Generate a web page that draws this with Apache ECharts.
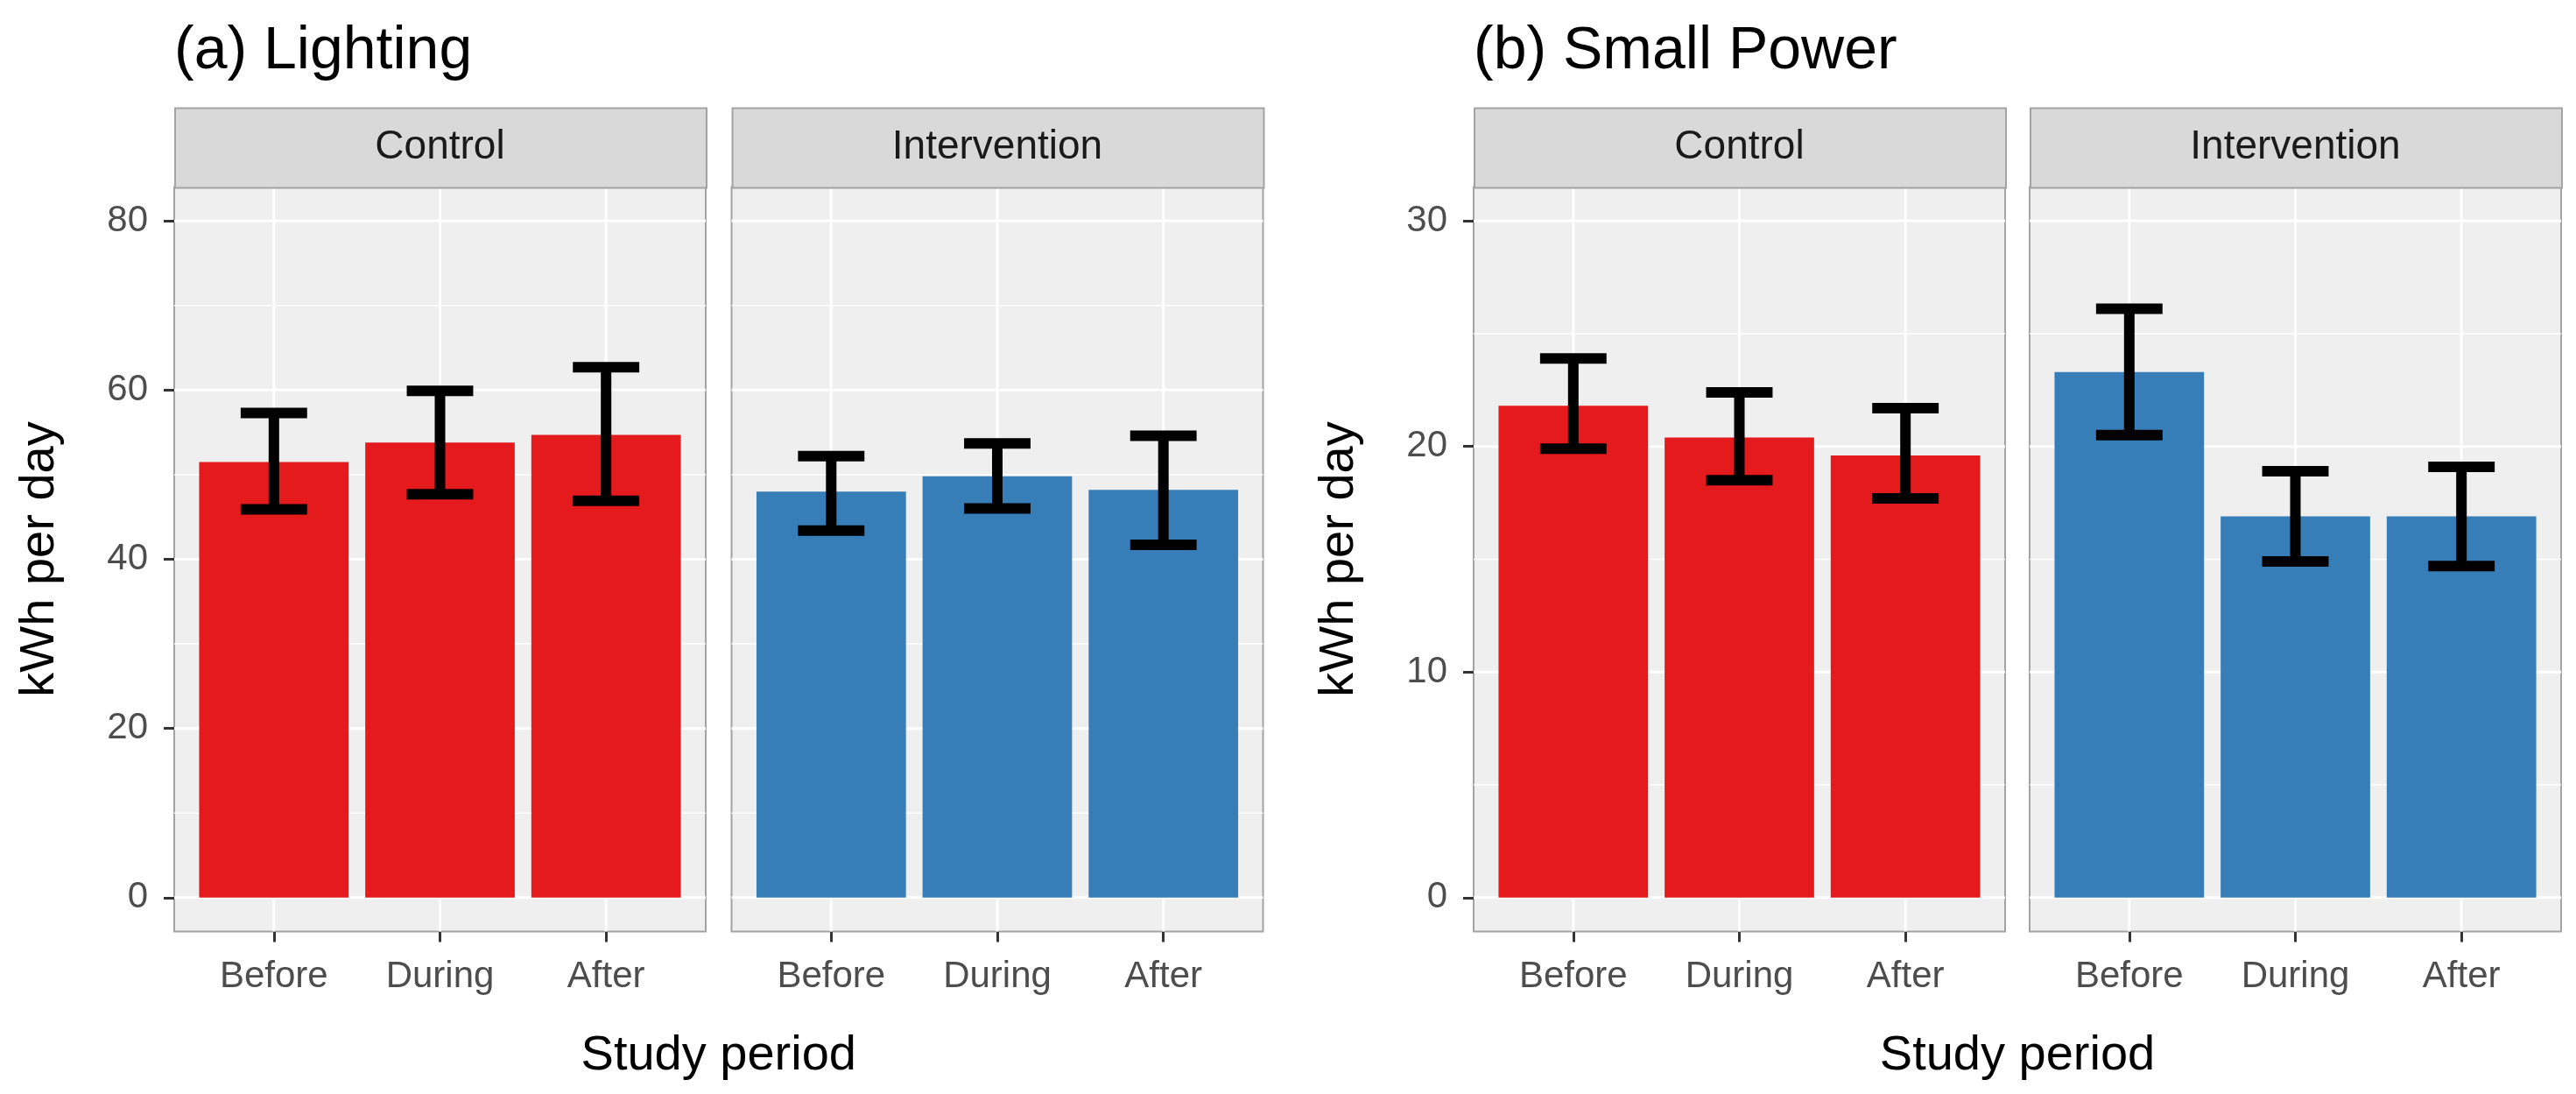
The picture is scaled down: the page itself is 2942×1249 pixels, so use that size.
<!DOCTYPE html>
<html><head><meta charset="utf-8">
<script src="https://cdn.jsdelivr.net/npm/echarts@6/dist/echarts.min.js"></script>
<style>html,body{margin:0;padding:0;background:#fff}#c{width:2942px;height:1249px}</style>
</head><body><div id="c"></div>
<script>
// ---------- data ----------
const categories = ['Before', 'During', 'After'];
const facets = ['Control', 'Intervention'];
const plotTitles = ['(a) Lighting', '(b) Small Power'];
const yAxisTitle = 'kWh per day';
const xAxisTitle = 'Study period';

const lightingControlMean = [51.5, 53.8, 54.7];
const lightingControlLower = [45.9, 47.7, 46.9];
const lightingControlUpper = [57.3, 59.9, 62.7];
const lightingInterventionMean = [48.0, 49.8, 48.2];
const lightingInterventionLower = [43.4, 46.0, 41.7];
const lightingInterventionUpper = [52.2, 53.7, 54.6];

const powerControlMean = [21.8, 20.4, 19.6];
const powerControlLower = [19.9, 18.5, 17.7];
const powerControlUpper = [23.9, 22.4, 21.7];
const powerInterventionMean = [23.3, 16.9, 16.9];
const powerInterventionLower = [20.5, 14.9, 14.7];
const powerInterventionUpper = [26.1, 18.9, 19.1];

const lightingTicks = [0, 20, 40, 60, 80];
const lightingMinor = [10, 30, 50, 70];
const lightingRange = [-4, 84];
const powerTicks = [0, 10, 20, 30];
const powerMinor = [5, 15, 25];
const powerRange = [-1.5, 31.5];

// ---------- layout / style ----------
const FONT = 'Liberation Sans, Arial, Helvetica, sans-serif';
const RED = '#E41A1C', BLUE = '#377EB8';
const PANEL_W = 607, PANEL_TOP = 213.5, PANEL_H = 850, STRIP_TOP = 122.6;
const panelLefts = [199, 835.5, 1683, 2318];
const panels = [
  {mean: lightingControlMean, lo: lightingControlLower, hi: lightingControlUpper, color: RED, ticks: lightingTicks, minor: lightingMinor, range: lightingRange, facet: 0},
  {mean: lightingInterventionMean, lo: lightingInterventionLower, hi: lightingInterventionUpper, color: BLUE, ticks: lightingTicks, minor: lightingMinor, range: lightingRange, facet: 1},
  {mean: powerControlMean, lo: powerControlLower, hi: powerControlUpper, color: RED, ticks: powerTicks, minor: powerMinor, range: powerRange, facet: 0},
  {mean: powerInterventionMean, lo: powerInterventionLower, hi: powerInterventionUpper, color: BLUE, ticks: powerTicks, minor: powerMinor, range: powerRange, facet: 1}
];
const catPos = categories.map((c, i) => i + 1);

const grids = [], xAxes = [], yAxes = [], series = [], graphics = [];

panels.forEach((p, i) => {
  const left = panelLefts[i];
  grids.push({left: left, top: PANEL_TOP, width: PANEL_W, height: PANEL_H, show: true,
    backgroundColor: '#EFEFEF', borderColor: '#A3A3A3', borderWidth: 2, containLabel: false});
  xAxes.push({gridIndex: i, type: 'value', min: 0.4, max: 3.6, position: 'bottom',
    axisLine: {show: false, onZero: false}, splitLine: {show: false},
    axisTick: {show: true, customValues: catPos, length: 12, lineStyle: {color: '#333333', width: 3}},
    axisLabel: {customValues: catPos, formatter: v => categories[Math.round(v) - 1], fontSize: 42,
      color: '#4D4D4D', fontFamily: FONT, margin: 31}});
  const first = p.facet === 0;
  yAxes.push({gridIndex: i, type: 'value', min: p.range[0], max: p.range[1], position: 'left',
    axisLine: {show: false, onZero: false}, splitLine: {show: false},
    axisTick: {show: first, customValues: p.ticks, length: 12, lineStyle: {color: '#333333', width: 3}},
    axisLabel: {show: first, customValues: p.ticks, fontSize: 42, color: '#4D4D4D', fontFamily: FONT, margin: 30}});

  // panel grid lines
  const gl = [];
  p.ticks.forEach(v => gl.push([1, v, 0]));
  p.minor.forEach(v => gl.push([1, v, 1]));
  catPos.forEach(c => gl.push([c, 0, 2]));
  series.push({type: 'custom', xAxisIndex: i, yAxisIndex: i, z: 1, silent: true,
    data: gl, encode: {x: 0, y: 1},
    renderItem: (params, api) => {
      const cs = params.coordSys;
      const kind = api.value(2);
      if (kind === 2) {
        const pt = api.coord([api.value(0), 0]);
        return {type: 'line', shape: {x1: pt[0], y1: cs.y, x2: pt[0], y2: cs.y + cs.height},
          style: {stroke: '#FFFFFF', lineWidth: 3}};
      }
      const pt = api.coord([1, api.value(1)]);
      return {type: 'line', shape: {x1: cs.x, y1: pt[1], x2: cs.x + cs.width, y2: pt[1]},
        style: {stroke: '#FFFFFF', lineWidth: kind === 0 ? 3 : 1.5}};
    }});

  // bars
  series.push({type: 'custom', xAxisIndex: i, yAxisIndex: i, z: 2,
    data: p.mean.map((m, k) => [catPos[k], m]), encode: {x: 0, y: 1},
    renderItem: (params, api) => {
      const top = api.coord([api.value(0), api.value(1)]);
      const base = api.coord([api.value(0), 0]);
      const w = api.size([0.9, 0])[0];
      return {type: 'rect', shape: {x: top[0] - w / 2, y: top[1], width: w, height: base[1] - top[1]},
        style: {fill: p.color}};
    }});

  // error bars
  series.push({type: 'custom', xAxisIndex: i, yAxisIndex: i, z: 3,
    data: p.lo.map((l, k) => [catPos[k], l, p.hi[k]]), encode: {x: 0, y: [1, 2]},
    renderItem: (params, api) => {
      const lo = api.coord([api.value(0), api.value(1)]);
      const hi = api.coord([api.value(0), api.value(2)]);
      const cw = api.size([0.4, 0])[0] / 2;
      const st = {stroke: '#000000', lineWidth: 12, lineCap: 'butt'};
      return {type: 'group', children: [
        {type: 'line', shape: {x1: lo[0], y1: lo[1], x2: hi[0], y2: hi[1]}, style: st},
        {type: 'line', shape: {x1: lo[0] - cw, y1: lo[1], x2: lo[0] + cw, y2: lo[1]}, style: st},
        {type: 'line', shape: {x1: hi[0] - cw, y1: hi[1], x2: hi[0] + cw, y2: hi[1]}, style: st}
      ]};
    }});

  // facet strip
  graphics.push({type: 'rect', left: left, top: STRIP_TOP, z: 10,
    shape: {width: PANEL_W, height: PANEL_TOP - STRIP_TOP},
    style: {fill: '#D9D9D9', stroke: '#A3A3A3', lineWidth: 2}});
  graphics.push({type: 'text', z: 11, x: left + PANEL_W / 2, y: (STRIP_TOP + PANEL_TOP) / 2,
    style: {text: facets[p.facet], font: '46px ' + FONT, fill: '#1A1A1A', align: 'center', verticalAlign: 'middle'}});
});

// axis titles
[[0, 1], [2, 3]].forEach((pair, k) => {
  const l = panelLefts[pair[0]], r = panelLefts[pair[1]] + PANEL_W;
  graphics.push({type: 'text', z: 11, x: (l + r) / 2, y: 1206,
    style: {text: xAxisTitle, font: '56px ' + FONT, fill: '#000000', align: 'center', verticalAlign: 'middle'}});
  graphics.push({type: 'text', z: 11, x: l - 153, y: PANEL_TOP + PANEL_H / 2, rotation: Math.PI / 2,
    style: {text: yAxisTitle, font: '56px ' + FONT, fill: '#000000', align: 'center', verticalAlign: 'middle'}});
});

const titles = plotTitles.map((t, k) => ({text: t, left: panelLefts[k * 2], top: 25, padding: 0,
  textStyle: {fontSize: 68, fontWeight: 'normal', color: '#000000', fontFamily: FONT}}));

const chart = echarts.init(document.getElementById('c'), null, {renderer: 'canvas'});
chart.setOption({
  animation: false,
  backgroundColor: '#FFFFFF',
  title: titles,
  grid: grids, xAxis: xAxes, yAxis: yAxes, series: series,
  graphic: graphics
});
</script></body></html>
